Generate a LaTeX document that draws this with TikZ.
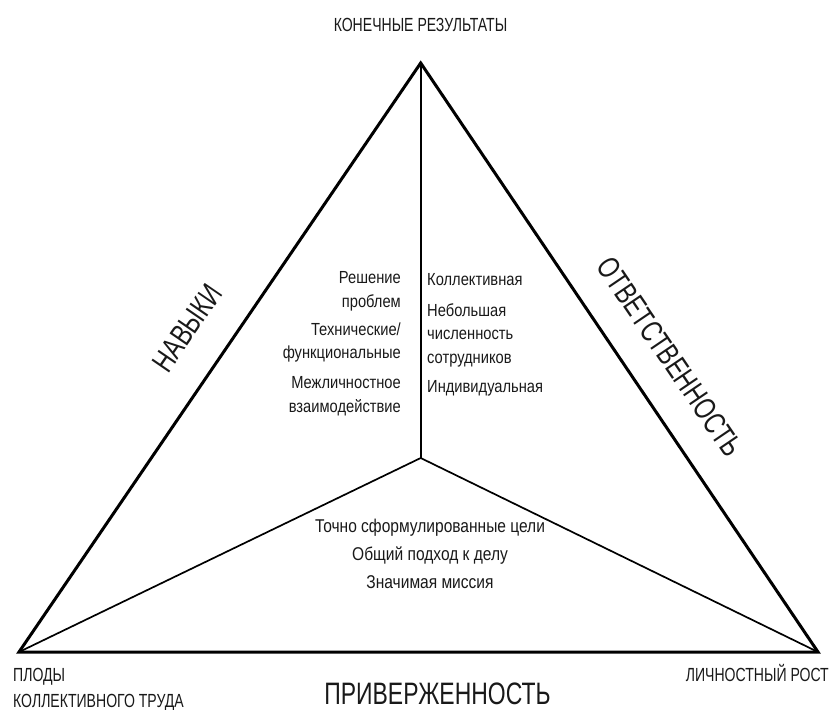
\documentclass[tikz,border=0pt]{standalone}
\usepackage{fontspec}
\setmainfont{Liberation Sans}[FakeStretch=0.74]
\newfontfamily\bodyfnt{Liberation Sans}[FakeStretch=0.84]
\begin{document}
\begin{tikzpicture}[x=1pt,y=-1pt,
  outer/.style={line width=3pt,line join=miter,black},
  inner/.style={line width=1.7pt,black},
  lab/.style={inner sep=0pt,text=black!90},
  small/.style={lab,font=\bodyfnt\fontsize{17.5}{23.5}\selectfont},
  mid/.style={lab,font=\bodyfnt\fontsize{18.5}{28}\selectfont},
  corner/.style={lab,font=\fontsize{19}{25.5}\selectfont},
  big/.style={lab,font=\fontsize{31}{36}\selectfont}]
\useasboundingbox (0,0) rectangle (831,710);
\coordinate (A) at (420.7,63);
\coordinate (L) at (19,652);
\coordinate (R) at (818,652);
\coordinate (C) at (420.7,458);
\draw[inner] (A) -- (C);
\draw[inner] (C) -- (L);
\draw[inner] (C) -- (R);
\draw[outer] (A) -- (L) -- (R) -- cycle;
% labels
\node[corner] (top) at (420.5,24.5) {КОНЕЧНЫЕ РЕЗУЛЬТАТЫ};
\node[corner,anchor=west,align=left] (bl) at (13,690) {ПЛОДЫ\\КОЛЛЕКТИВНОГО ТРУДА};
\node[corner,anchor=east] (br) at (829,673) {ЛИЧНОСТНЫЙ РОСТ};
\node[big] (commit) at (437.5,693.5) {ПРИВЕРЖЕННОСТЬ};
\node[big,rotate=55.5] (skills) at (187,328) {НАВЫКИ};
\node[big,rotate=-55.8] (resp) at (670,357) {ОТВЕТСТВЕННОСТЬ};
% left column
\node[small,anchor=east,align=right] (s1) at (401,291.5) {Решение\\проблем};
\node[small,anchor=east,align=right] (s2) at (401,342.5) {Технические/\\функциональные};
\node[small,anchor=east,align=right] (s3) at (401,396) {Межличностное\\взаимодействие};
% right column
\node[small,anchor=west] (r1) at (427,280) {Коллективная};
\node[small,anchor=west,align=left] (r2) at (427,335) {Небольшая\\численность\\сотрудников};
\node[small,anchor=west] (r3) at (427,388) {Индивидуальная};
% bottom
\node[mid,align=center] (b) at (430,554) {Точно сформулированные цели\\Общий подход к делу\\Значимая миссия};
\end{tikzpicture}
\end{document}
